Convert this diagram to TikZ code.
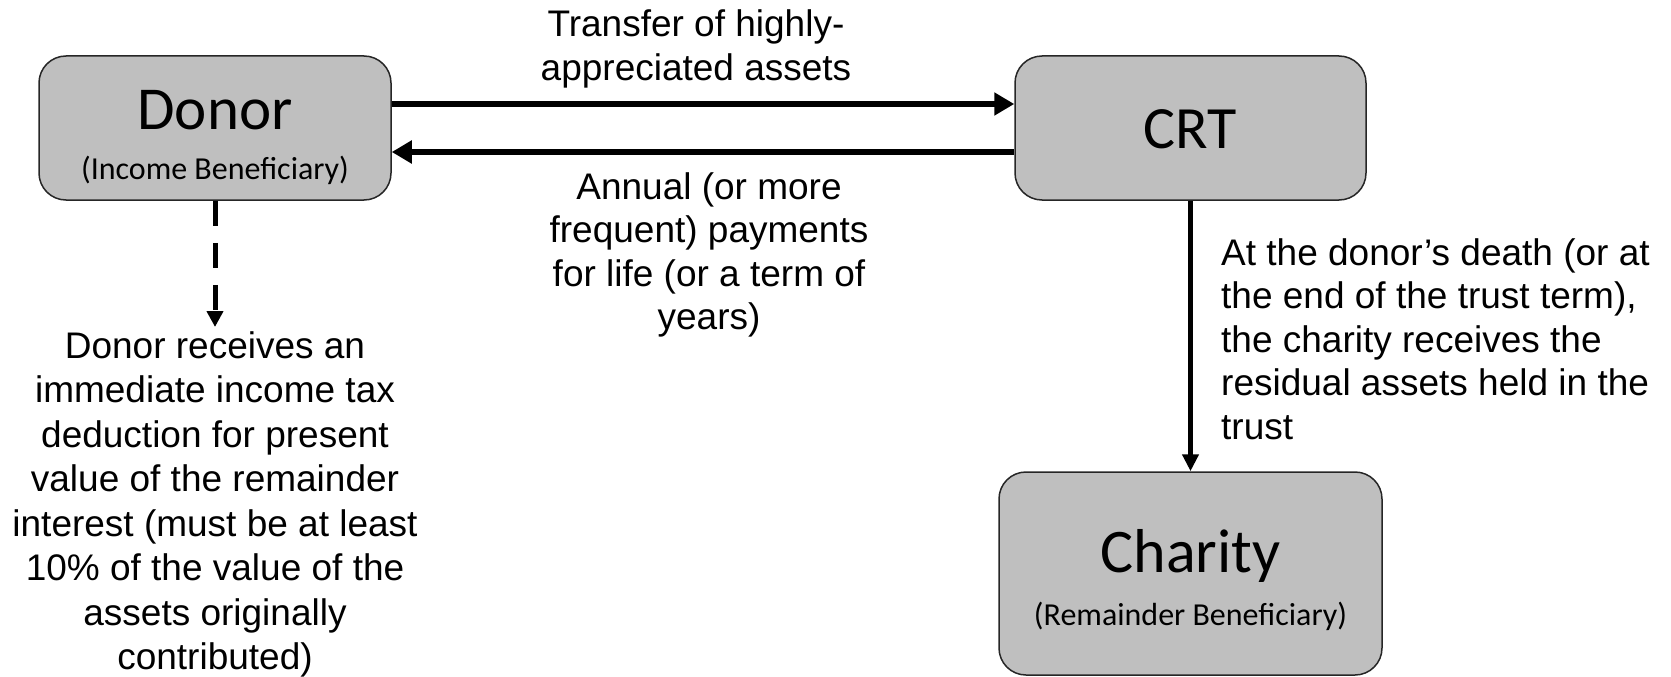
\documentclass[tikz,border=0pt]{standalone}
\usepackage{fontspec}
\setmainfont{Liberation Sans}
\newfontfamily\boxfont{Carlito}
\usetikzlibrary{arrows.meta}
\tikzset{
  x=1pt, y=-1pt,
  box/.style={draw=black!85, line width=1.5pt, fill=black!25, rounded corners=27pt, inner sep=0pt},
  title/.style={font=\boxfont\fontsize{61}{70}\selectfont, inner sep=0pt},
  sub/.style={font=\boxfont\fontsize{32}{36}\selectfont, inner sep=0pt},
  lbl/.style={font=\fontsize{37}{43.5}\selectfont, inner sep=0pt},
  bigarrow/.style={line width=6.5pt, -{Triangle[length=20pt,width=22pt]}},
  thinarrow/.style={line width=4.5pt, -{Triangle[length=17pt,width=16pt]}},
  dasharrow/.style={line width=5pt, dash pattern=on 25pt off 17pt, -{Triangle[length=16pt,width=16pt]}},
}
\begin{document}
\begin{tikzpicture}
\useasboundingbox (0,0) rectangle (1671,677);
% boxes
\node[box, minimum width=352pt, minimum height=144pt] (donor) at (215,128) {};
\node[box, minimum width=351pt, minimum height=144pt] (crt) at (1190.5,128) {};
\node[box, minimum width=383pt, minimum height=203pt] (charity) at (1190.5,573.5) {};
% box texts
\node[title] (donort) at (215,110) {Donor};
\node[sub] (donors) at (215,170) {(Income Beneficiary)};
\node[title, font=\boxfont\fontsize{60}{70}\selectfont] (crtt) at (1190.5,129) {CRT};
\node[title, font=\boxfont\fontsize{62}{70}\selectfont] (chart) at (1190.5,556) {Charity};
\node[sub] (chars) at (1190.5,616) {(Remainder Beneficiary)};
% connectors
\coordinate (d1) at (donor.east |- 0,104);
\coordinate (c1) at (crt.west |- 0,104);
\coordinate (d2) at (donor.east |- 0,152);
\coordinate (c2) at (crt.west |- 0,152);
\draw[bigarrow] (d1) -- (c1);
\draw[bigarrow] (c2) -- (d2);
\coordinate (dtip) at (215,327);
\draw[dasharrow] (donor.south) -- (dtip);
\draw[thinarrow] (crt.south) -- (charity.north);
% labels
\node[lbl, align=center] (ltop) at (696,49) {Transfer of highly-\\appreciated assets};
\node[lbl, align=center, anchor=north] (lann) at (709,172) {Annual (or more\\frequent) payments\\for life (or a term of\\years)};
\node[lbl, font=\fontsize{37}{44.5}\selectfont, align=center, anchor=north] (lded) at (215,331) {Donor receives an\\immediate income tax\\deduction for present\\value of the remainder\\interest (must be at least\\10\% of the value of the\\assets originally\\contributed)};
\node[lbl, align=left, anchor=north west] (lres) at (1221,238) {At the donor’s death (or at\\the end of the trust term),\\the charity receives the\\residual assets held in the\\trust};
\end{tikzpicture}
\end{document}
